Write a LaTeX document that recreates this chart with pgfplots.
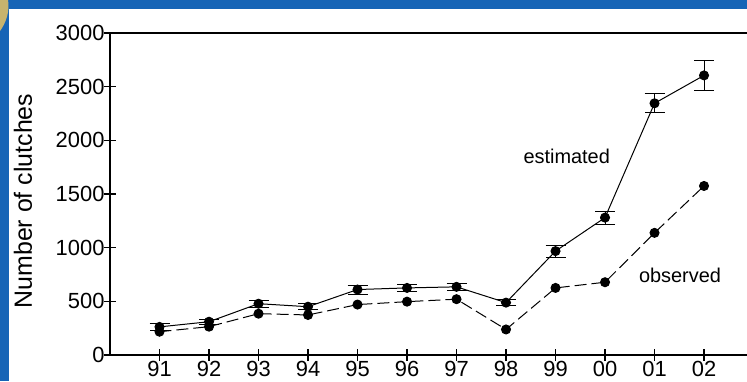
\documentclass[border=0pt]{standalone}
\usepackage{pgfplots}
\pgfplotsset{compat=1.18}
\usepackage{fontspec}
\setmainfont{Liberation Sans}
\definecolor{bgblue}{RGB}{22,100,182}
\definecolor{blob}{RGB}{200,180,110}
\begin{document}
\begin{tikzpicture}[x=1bp,y=1bp]
\fill[bgblue] (0,0) rectangle (747,381);
\fill[blob] (0,381) -- (8,381) .. controls (10,370) and (6,358) .. (0,350) -- cycle;
\fill[white] (9,0) rectangle (747,372);
\begin{scope}
\clip (0,0) rectangle (747,381);
\begin{axis}[
  at={(110bp,26bp)}, anchor=south west,
  scale only axis, width=640bp, height=322bp,
  xmin=-1, xmax=11.929, ymin=0, ymax=3000,
  xtick={0,...,11},
  xticklabels={91,92,93,94,95,96,97,98,99,00,01,02},
  ytick={0,500,...,3000},
  xtick pos=lower, ytick pos=left,
  tick align=center, major tick length=12bp,
  axis line style={line width=1.4bp},
  tick style={line width=1.1bp, black},
  /pgf/number format/assume math mode=true,
  /pgf/number format/1000 sep={},
  tick label style={font=\fontsize{22}{22}\selectfont},
  yticklabel style={xshift=4bp},
  xticklabel style={yshift=3.5bp},
  ylabel={Number of clutches},
  ylabel style={font=\fontsize{25}{25}\selectfont, at={(axis description cs:-0.1359,0.478)}, anchor=center},
  clip=false,
]
\addplot[black, line width=1bp, mark=*, mark size=4.5bp, mark options={solid, fill=black},
  error bars/.cd, y dir=both, y explicit,
  error mark options={rotate=90, mark size=10bp, line width=1bp, black},
  error bar style={line width=1bp, black}]
coordinates {
(0,262) +- (0,32)
(1,310) +- (0,22)
(2,478) +- (0,32)
(3,450) +- (0,28)
(4,610) +- (0,42)
(5,625) +- (0,35)
(6,635) +- (0,30)
(7,488) +- (0,27)
(8,968) +- (0,55)
(9,1280) +- (0,60)
(10,2345) +- (0,88)
(11,2605) +- (0,138)
};
\addplot[black, line width=1bp, dash pattern=on 12bp off 5bp, mark=*, mark size=4.5bp, mark options={solid, fill=black}]
coordinates {
(0,217) (1,264) (2,385) (3,373) (4,470) (5,497) (6,520) (7,238) (8,625) (9,678) (10,1138) (11,1575)
};
\node[font=\fontsize{20}{20}\selectfont] at (axis cs:8.226,1847) {estimated};
\node[font=\fontsize{20}{20}\selectfont] at (axis cs:10.515,745) {observed};
\end{axis}
\end{scope}
\pgfresetboundingbox
\path[use as bounding box] (0,0) rectangle (747,381);
\end{tikzpicture}
\end{document}
